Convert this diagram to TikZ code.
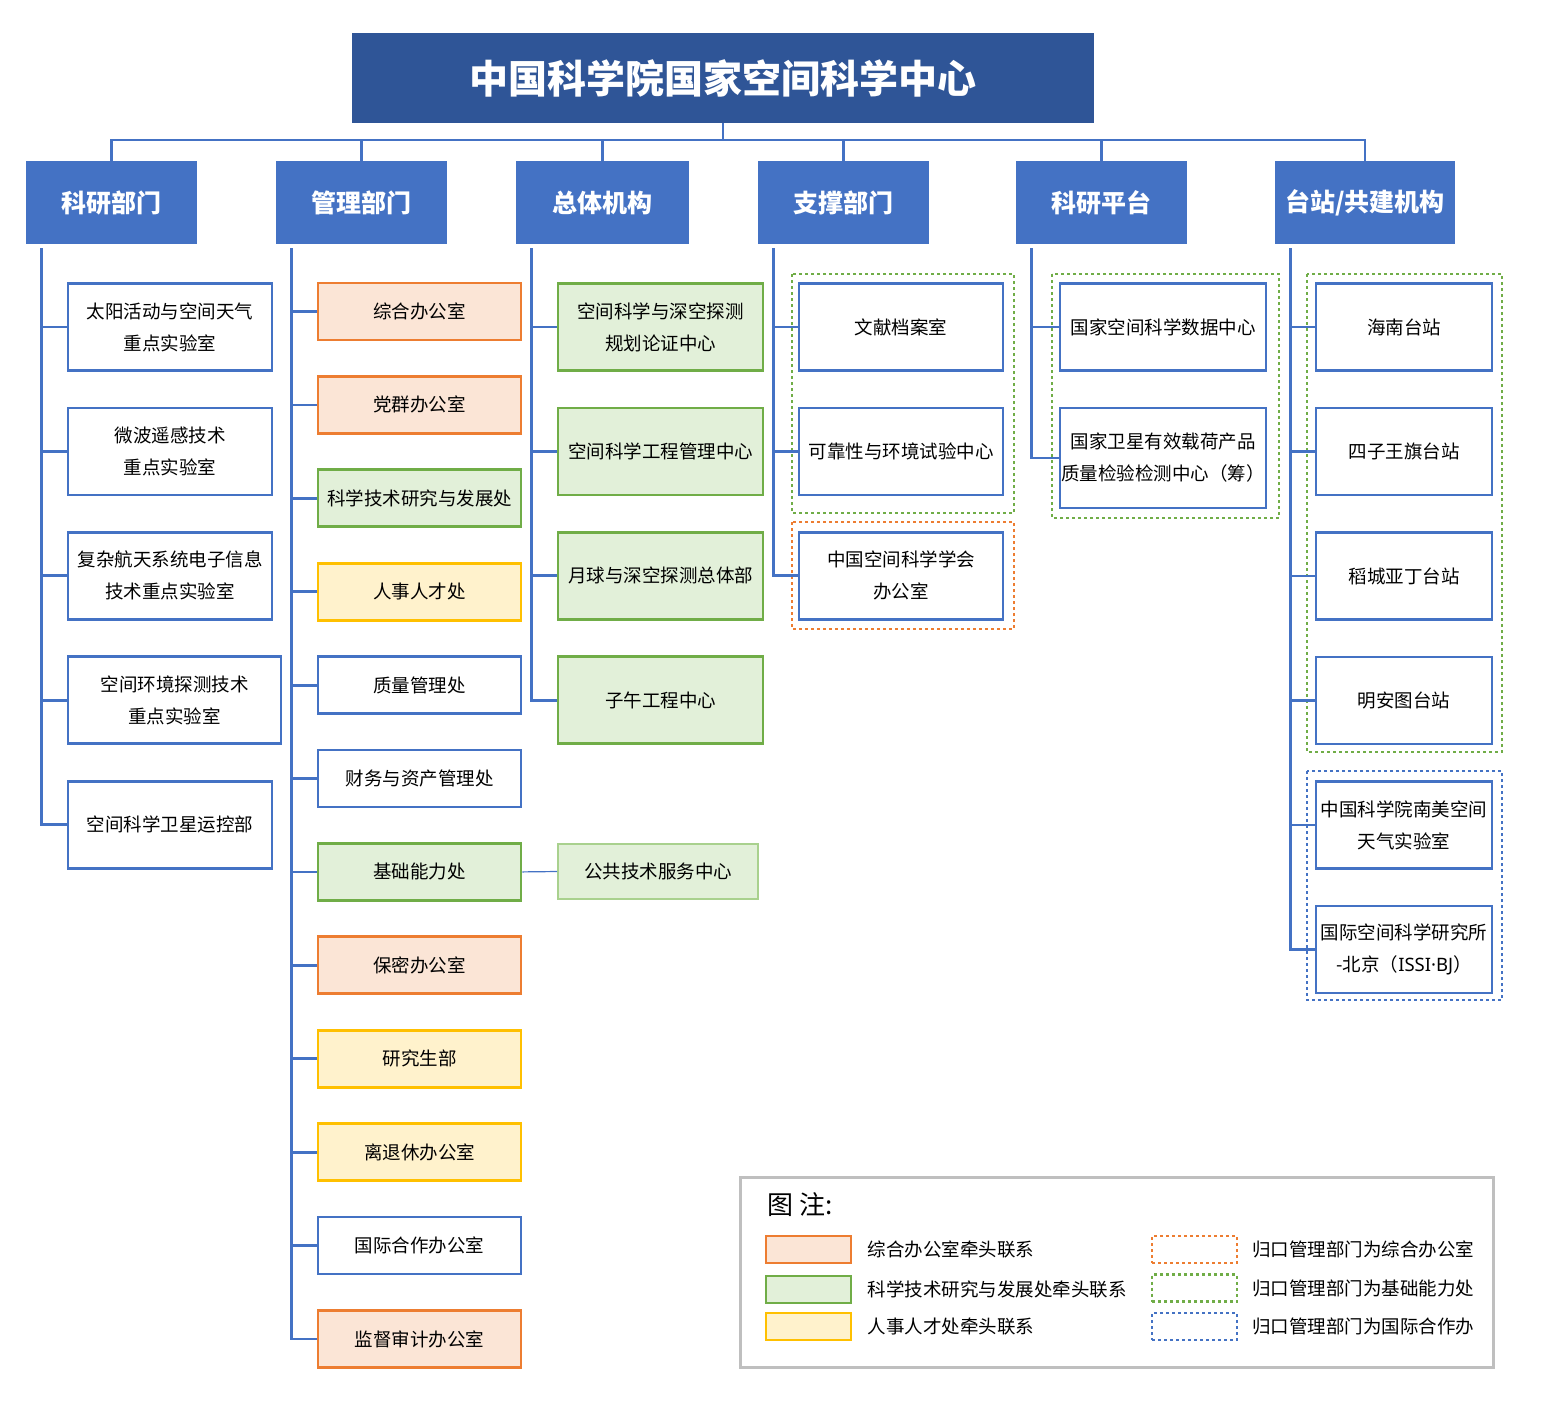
\documentclass[tikz,border=0pt]{standalone}
\usepackage{fontspec}
\setmainfont{Noto Sans CJK SC}
\newfontfamily\latinfont{Noto Sans}
\usetikzlibrary{positioning}

\definecolor{titleblue}{HTML}{2F5597}
\definecolor{catblue}{HTML}{4472C4}
\definecolor{lineblue}{HTML}{4472C4}
\definecolor{zhline}{HTML}{ED7D31}
\definecolor{zhfill}{HTML}{FBE5D6}
\definecolor{kjline}{HTML}{70AD47}
\definecolor{kjfill}{HTML}{E2F0D9}
\definecolor{kjlight}{HTML}{A9D18E}
\definecolor{rsline}{HTML}{FFC000}
\definecolor{rsfill}{HTML}{FFF2CC}
\definecolor{legendgray}{HTML}{BFBFBF}

\newcommand\titlefont{\fontsize{39}{48}\selectfont\bfseries}
\newcommand\catfont{\fontsize{25}{30}\selectfont\bfseries}
\newcommand\bodyfont{\fontsize{18.5}{32}\selectfont}
\newcommand\legendtitle{\fontsize{26}{30}\selectfont}

\begin{document}
\begin{tikzpicture}[x=1pt, y=-1pt,
    line/.style={draw=lineblue, line width=2.8pt},
    box/.style={draw=lineblue, line width=2.8pt, fill=white, align=center, inner sep=0pt,
      font=\bodyfont, minimum width=204pt, minimum height=87pt},
    sbox/.style={box, minimum width=203pt, minimum height=57pt},
    cat/.style={fill=catblue, text=white, font=\catfont, inner sep=0pt,
      minimum width=171pt, minimum height=83pt},
    leadzh/.style={draw=zhline, fill=zhfill},
    leadkj/.style={draw=kjline, fill=kjfill},
    leadrs/.style={draw=rsline, fill=rsfill},
    plain/.style={},
    group/.style={line width=2.5pt, dash pattern=on 3pt off 3pt},
    swatch/.style={line width=2.8pt, minimum width=85pt, minimum height=27pt, inner sep=0pt},
    legtext/.style={font=\bodyfont, inner sep=0pt}]

    \useasboundingbox (0,0) rectangle (1554,1414);

    \node[fill=titleblue, text=white, font=\titlefont, minimum width=742pt, minimum height=90pt]
      (top) at (723,78) {中国科学院国家空间科学中心};

    \node[cat] (K) at (111.5,202.5) {科研部门};
    \node[cat] (G) at (361.5,202.5) {管理部门};
    \node[cat, minimum width=173pt] (Z) at (602.5,202.5) {总体机构};
    \node[cat] (C) at (843.5,202.5) {支撑部门};
    \node[cat] (P) at (1101.5,202.5) {科研平台};
    \node[cat, minimum width=180pt] (T) at (1365,202.5) {台站/共建机构};

    \coordinate (bus) at (723,140);
    \draw[line] (top.south) -- (bus);
    \foreach \c in {K,G,Z,C,P,T}
    \draw[line] (\c.north) |- (bus);

    \foreach \c in {K,G,Z,C,P,T}
    \coordinate (\c t) at ([xshift=16pt, yshift=-4pt]\c.south west);

    % groups
    \draw[group, draw=kjline] (792,274) rectangle (1014,513);
    \draw[group, draw=zhline] (792,522) rectangle (1014,629);
    \draw[group, draw=kjline] (1052,274) rectangle (1279,518);
    \draw[group, draw=kjline] (1307,274) rectangle (1502,752);
    \draw[group, draw=lineblue] (1307,771) rectangle (1502,1000);

    \node[box] (k1) at (170,327) {太阳活动与空间天气\\重点实验室};
    \node[box] (k2) at (170,451.4) {微波遥感技术\\重点实验室};
    \node[box] (k3) at (170,575.8) {复杂航天系统电子信息\\技术重点实验室};
    \node[box, minimum width=213pt] (k4) at (174.5,700.2) {空间环境探测技术\\重点实验室};
    \node[box] (k5) at (170,824.6) {空间科学卫星运控部};

    \foreach \t/\s [count=\i] in {综合办公室/leadzh, 党群办公室/leadzh,
      科学技术研究与发展处/leadkj, 人事人才处/leadrs, 质量管理处/plain,
      财务与资产管理处/plain, 基础能力处/leadkj, 保密办公室/leadzh,
      研究生部/leadrs, 离退休办公室/leadrs, 国际合作办公室/plain, 监督审计办公室/leadzh}
    \node[sbox, \s] (g\i) at (419.5,218.1+93.4*\i) {\t};

    \node[box, leadkj, minimum width=205pt] (z1) at (660.5,327) {空间科学与深空探测\\规划论证中心};
    \node[box, leadkj, minimum width=205pt] (z2) at (660.5,451.4) {空间科学工程管理中心};
    \node[box, leadkj, minimum width=205pt] (z3) at (660.5,575.8) {月球与深空探测总体部};
    \node[box, leadkj, minimum width=205pt] (z4) at (660.5,700.2) {子午工程中心};

    \node[sbox, fill=kjfill, draw=kjlight, line width=2pt, minimum width=200pt, minimum height=55pt]
      (pub) at (658,871.5) {公共技术服务中心};
    \draw[draw=lineblue, line width=1.2pt] (g7.east) -- (pub.west);

    \node[box] (c1) at (901,327) {文献档案室};
    \node[box] (c2) at (901,451.4) {可靠性与环境试验中心};
    \node[box] (c3) at (901,575.8) {中国空间科学学会\\办公室};

    \node[box, minimum width=206pt] (p1) at (1163,327) {国家空间科学数据中心};
    \node[box, minimum width=206pt, minimum height=100pt] (p2) at (1163,458) {国家卫星有效载荷产品\\质量检验检测中心（筹）};

    \node[box, minimum width=176pt] (t1) at (1404,327) {海南台站};
    \node[box, minimum width=176pt] (t2) at (1404,451.5) {四子王旗台站};
    \node[box, minimum width=176pt] (t3) at (1404,576) {稻城亚丁台站};
    \node[box, minimum width=176pt] (t4) at (1404,700.5) {明安图台站};
    \node[box, minimum width=176pt] (t5) at (1404,825) {中国科学院南美空间\\天气实验室};
    \node[box, minimum width=176pt] (t6) at (1404,949.5) {国际空间科学研究所\\-北京（{\latinfont ISSI·BJ}）};

    \foreach \i in {1,...,5}
    \draw[line] (Kt) |- (k\i.west);
    \foreach \i in {1,...,12}
    \draw[line] (Gt) |- (g\i.west);
    \foreach \i in {1,...,4}
    \draw[line] (Zt) |- (z\i.west);
    \foreach \i in {1,...,3}
    \draw[line] (Ct) |- (c\i.west);
    \foreach \i in {1,2}
    \draw[line] (Pt) |- (p\i.west);
    \foreach \i in {1,...,6}
    \draw[line] (Tt) |- (t\i.west);

    % legend
    \draw[draw=legendgray, line width=3pt] (740,1177) rectangle (1493,1367);
    \node[anchor=west, font=\legendtitle, inner sep=0pt] (lt) at (767,1205) {图\ 注:};

    \node[swatch, leadzh] (s1) at (808.5,1249.5) {};
    \node[swatch, leadkj] (s2) at (808.5,1289.5) {};
    \node[swatch, leadrs] (s3) at (808.5,1326.5) {};
    \node[legtext, right=15pt of s1] (l1) {综合办公室牵头联系};
    \node[legtext, right=15pt of s2] (l2) {科学技术研究与发展处牵头联系};
    \node[legtext, right=15pt of s3] (l3) {人事人才处牵头联系};

    \node[swatch, group, draw=zhline] (d1) at (1194.5,1249.5) {};
    \node[swatch, group, draw=kjline] (d2) at (1194.5,1288) {};
    \node[swatch, group, draw=lineblue] (d3) at (1194.5,1326.5) {};
    \node[legtext, right=14pt of d1] (r1) {归口管理部门为综合办公室};
    \node[legtext, right=14pt of d2] (r2) {归口管理部门为基础能力处};
    \node[legtext, right=14pt of d3] (r3) {归口管理部门为国际合作办};

  \end{tikzpicture}
\end{document}
